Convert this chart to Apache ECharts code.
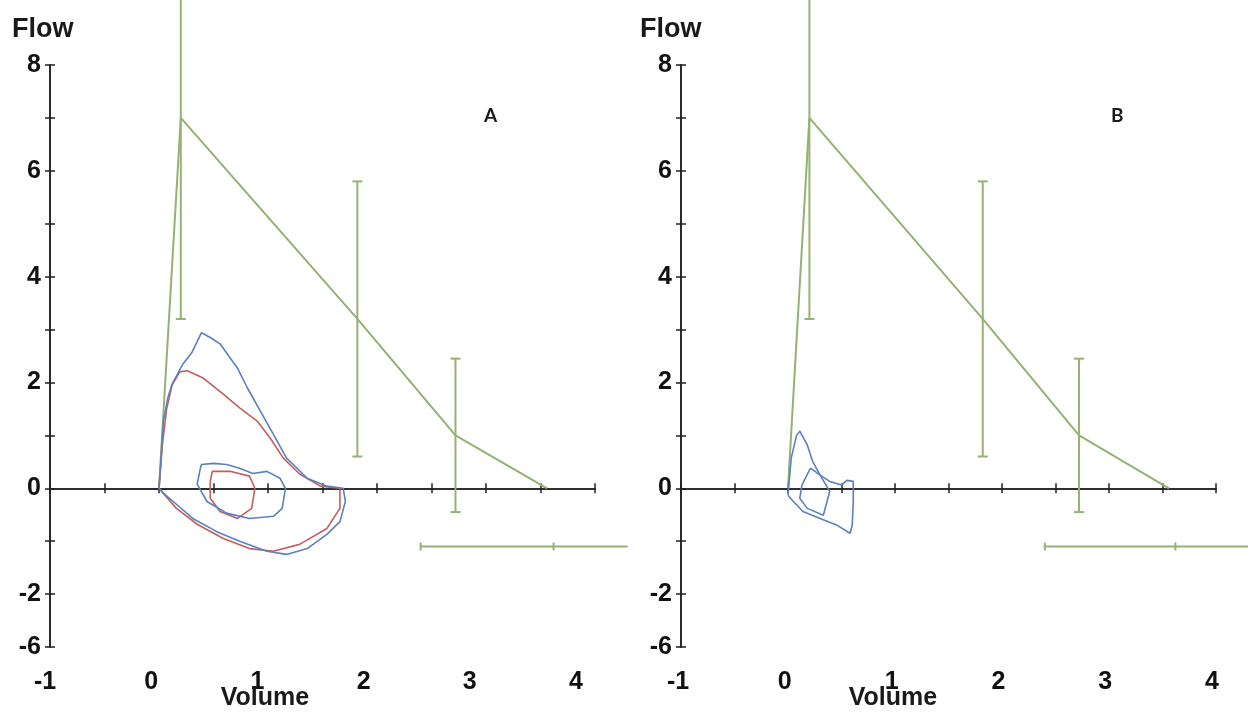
<!doctype html>
<html lang="en">
<head>
<meta charset="UTF-8">
<title>Flow-volume loops</title>
<script src="https://cdn.jsdelivr.net/npm/echarts@6/dist/echarts.min.js"></script>
<style>
    html, body { margin: 0; background: #fff; }
    #main { width: 1253px; height: 712px; }
</style>
</head>
<body>
<div id="main"></div>
<script>
// tick labels
var volumeTicks = [-1, 0, 1, 2, 3, 4];
var flowTickValues = [8, 6, 4, 2, 0, -2, -3];
var flowTickTexts = ['8', '6', '4', '2', '0', '-2', '-6'];

// predicted curve, same in both panels
var predVolume = [0, 0.2, 1.82, 2.72, 3.56];
var predFlow = [0, 7.0, 3.2, 1.0, 0];
// vertical error bars
var errVolume = [0.2, 1.82, 2.72];
var errLow = [3.2, 0.6, -0.45];
var errHigh = [10.8, 5.8, 2.45];
// horizontal bar under the axis: flow, left end, mark, right end
var fvcFlow = -1.1;
var fvcRange = [2.4, 3.62, 4.3];

// panel A measured loops [volume, flow]
var aBlueOuter = [[0,0],[0.02,0.6],[0.04,1.27],[0.08,1.7],[0.12,1.97],[0.22,2.35],[0.3,2.56],[0.39,2.94],
    [0.47,2.85],[0.56,2.73],[0.64,2.5],[0.72,2.27],[0.81,1.9],[0.93,1.46],[1.05,1.02],[1.17,0.57],
    [1.36,0.19],[1.54,0.04],[1.69,0],[1.71,-0.25],[1.66,-0.63],[1.54,-0.87],[1.36,-1.14],[1.17,-1.25],
    [0.99,-1.19],[0.74,-1.0],[0.53,-0.82],[0.31,-0.57],[0.13,-0.25],[0.04,-0.09],[0,0]];
var aRedOuter = [[0,0],[0.03,0.8],[0.07,1.5],[0.12,1.95],[0.19,2.2],[0.26,2.22],[0.4,2.09],[0.59,1.78],
    [0.74,1.52],[0.9,1.27],[1.02,0.95],[1.14,0.57],[1.29,0.27],[1.48,0.04],[1.66,0],[1.66,-0.38],
    [1.54,-0.76],[1.29,-1.06],[1.05,-1.19],[0.83,-1.14],[0.59,-0.95],[0.35,-0.68],[0.16,-0.38],[0.04,-0.1],[0,0]];
var aBlueInner = [[0.38,0.38],[0.39,0.45],[0.5,0.47],[0.62,0.45],[0.74,0.38],[0.86,0.28],[0.99,0.32],
    [1.11,0.19],[1.16,0],[1.13,-0.38],[1.05,-0.53],[0.83,-0.57],[0.62,-0.47],[0.44,-0.25],[0.35,0.08],[0.38,0.38]];
var aRedInner = [[0.47,0.13],[0.49,0.32],[0.65,0.32],[0.83,0.23],[0.88,0],[0.85,-0.38],[0.72,-0.57],
    [0.56,-0.44],[0.47,-0.19],[0.47,0.13]];

// panel B measured loops
var bBlueOuter = [[0,-0.13],[0.03,0.57],[0.08,1.0],[0.11,1.08],[0.18,0.82],[0.23,0.51],[0.3,0.25],
    [0.39,0.13],[0.5,0.06],[0.55,0.15],[0.61,0.13],[0.61,-0.25],[0.6,-0.7],[0.58,-0.85],[0.46,-0.7],
    [0.3,-0.57],[0.14,-0.44],[0.05,-0.25],[0,-0.13]];
var bBlueInner = [[0.21,0.38],[0.3,0.25],[0.39,-0.06],[0.33,-0.51],[0.18,-0.38],[0.11,-0.19],[0.13,0.06],[0.21,0.38]];

var GREEN = '#93b274', BLUE = '#5b80c0', RED = '#c45e5e', AXIS = '#222';
var FONT = '"Liberation Sans", Arial, sans-serif';

var chart = echarts.init(document.getElementById('main'));

var grids = [
    {left: 50, top: 65, width: 545, height: 582},
    {left: 681, top: 65, width: 535, height: 582},
    {left: 45, top: 65, width: 531, height: 582},   // label row A
    {left: 678, top: 65, width: 534, height: 582}   // label row B
];

var xAxes = [], yAxes = [];
for (var p = 0; p < 2; p++) {
    // axis line through zero, ticks below
    xAxes.push({type: 'value', gridIndex: p, min: -1, max: 4, interval: 0.5, position: 'bottom',
        axisLine: {onZero: true, lineStyle: {color: AXIS, width: 1.6}},
        axisTick: {length: 5, inside: false, lineStyle: {color: AXIS, width: 1.5}},
        axisLabel: {show: false}, splitLine: {show: false}});
    // same line, ticks above
    xAxes.push({type: 'value', gridIndex: p, min: -1, max: 4, interval: 0.5, position: 'bottom',
        axisLine: {onZero: true, lineStyle: {color: AXIS, width: 1.6}},
        axisTick: {length: 5, inside: true, lineStyle: {color: AXIS, width: 1.5}},
        axisLabel: {show: false}, splitLine: {show: false}});
    // volume labels along the bottom
    xAxes.push({type: 'value', gridIndex: p + 2, min: -1, max: 4, interval: 1, position: 'bottom',
        axisLine: {show: false, onZero: false}, axisTick: {show: false}, splitLine: {show: false},
        axisLabel: {margin: 23, fontFamily: FONT, fontWeight: 'bold', fontSize: 25, color: '#111',
            formatter: function (v) { return volumeTicks.indexOf(v) >= 0 ? String(v) : ''; }}});

    yAxes.push({type: 'value', gridIndex: p, min: -3, max: 8, interval: 1, position: 'left',
        axisLine: {onZero: false, lineStyle: {color: AXIS, width: 1.6}},
        axisTick: {length: 5, lineStyle: {color: AXIS, width: 1.5}},
        splitLine: {show: false},
        axisLabel: {margin: 9, fontFamily: FONT, fontWeight: 'bold', fontSize: 25, color: '#111',
            formatter: function (v) {
                var i = flowTickValues.indexOf(v);
                return i >= 0 ? flowTickTexts[i] : '';
            }}});
    yAxes.push({type: 'value', gridIndex: p, min: -3, max: 8, interval: 1, position: 'left',
        axisLine: {onZero: false, lineStyle: {color: AXIS, width: 1.6}},
        axisTick: {length: 5, inside: true, lineStyle: {color: AXIS, width: 1.5}},
        axisLabel: {show: false}, splitLine: {show: false}});
    yAxes.push({type: 'value', gridIndex: p + 2, min: -3, max: 8, show: false});
}

function errData() {
    return errVolume.map(function (v, i) { return [v, errLow[i], errHigh[i]]; });
}

function errorBars(ax) {
    return {
        type: 'custom', xAxisIndex: ax, yAxisIndex: ax, clip: false, z: 3,
        data: errData(),
        renderItem: function (params, api) {
            var lo = api.coord([api.value(0), api.value(1)]);
            var hi = api.coord([api.value(0), api.value(2)]);
            var st = {stroke: GREEN, lineWidth: 2};
            return {type: 'group', children: [
                {type: 'line', shape: {x1: lo[0], y1: lo[1], x2: hi[0], y2: hi[1]}, style: st},
                {type: 'line', shape: {x1: lo[0] - 5, y1: lo[1], x2: lo[0] + 5, y2: lo[1]}, style: st},
                {type: 'line', shape: {x1: hi[0] - 5, y1: hi[1], x2: hi[0] + 5, y2: hi[1]}, style: st}
            ]};
        }
    };
}

function fvcBar(ax) {
    return {
        type: 'custom', xAxisIndex: ax, yAxisIndex: ax, clip: false, z: 3,
        data: [[fvcFlow, fvcRange[0], fvcRange[1], fvcRange[2]]],
        renderItem: function (params, api) {
            var y = api.value(0);
            var a = api.coord([api.value(1), y]);
            var m = api.coord([api.value(2), y]);
            var b = api.coord([api.value(3), y]);
            var st = {stroke: GREEN, lineWidth: 2};
            return {type: 'group', children: [
                {type: 'line', shape: {x1: a[0], y1: a[1], x2: b[0], y2: b[1]}, style: st},
                {type: 'line', shape: {x1: a[0], y1: a[1] - 4, x2: a[0], y2: a[1] + 4}, style: st},
                {type: 'line', shape: {x1: m[0], y1: m[1] - 4, x2: m[0], y2: m[1] + 4}, style: st}
            ]};
        }
    };
}

function loop(ax, data, color) {
    return {type: 'line', xAxisIndex: ax, yAxisIndex: ax, data: data, showSymbol: false,
        symbol: 'none', smooth: false, z: 4, lineStyle: {color: color, width: 1.6}};
}

function predicted(ax) {
    return {type: 'line', xAxisIndex: ax, yAxisIndex: ax, clip: false, z: 3, symbol: 'none',
        data: predVolume.map(function (v, i) { return [v, predFlow[i]]; }),
        lineStyle: {color: GREEN, width: 2}};
}

var series = [
    predicted(0), errorBars(0), fvcBar(0),
    loop(0, aRedOuter, RED), loop(0, aBlueOuter, BLUE), loop(0, aRedInner, RED), loop(0, aBlueInner, BLUE),
    predicted(3), errorBars(3), fvcBar(3),
    loop(3, bBlueOuter, BLUE), loop(3, bBlueInner, BLUE)
];

function txt(x, y, s, size, family, align) {
    return {type: 'text', x: x, y: y, z: 10,
        style: {text: s, fill: '#1a1a1a', font: 'bold ' + size + 'px ' + family, textAlign: align || 'left'}};
}

var option = {
    backgroundColor: '#ffffff',
    animation: false,
    grid: grids,
    xAxis: xAxes,
    yAxis: yAxes,
    series: series,
    graphic: [
        txt(12, 16, 'Flow', 27, FONT),
        txt(640, 16, 'Flow', 27, FONT),
        txt(265, 686, 'Volume', 25, FONT, 'center'),
        txt(893, 686, 'Volume', 25, FONT, 'center'),
        txt(484, 106, 'A', 19, 'Lato, "Open Sans", sans-serif'),
        txt(1111, 106, 'B', 19, 'Lato, "Open Sans", sans-serif')
    ]
};
chart.setOption(option);
</script>
</body>
</html>
